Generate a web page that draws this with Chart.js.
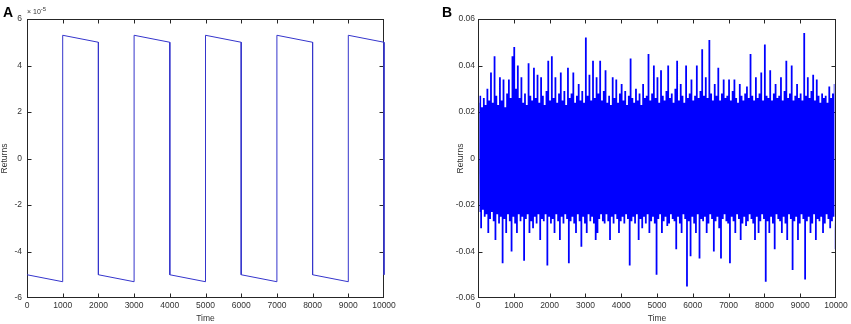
<!DOCTYPE html>
<html><head><meta charset="utf-8">
<script src="https://cdn.jsdelivr.net/npm/chart.js@4.4.1/dist/chart.umd.min.js"></script>
<style>
html,body{margin:0;padding:0;background:#fff;width:851px;height:324px;overflow:hidden;}
#wrap{position:relative;width:851px;height:324px;}
canvas{position:absolute;top:0;}
.pl{position:absolute;font:bold 14px 'Liberation Sans',Arial,sans-serif;line-height:14px;color:#000;}
.mult{position:absolute;font:7px 'Liberation Sans',Arial,sans-serif;line-height:7px;color:#333;white-space:nowrap;}
.mult span{position:relative;top:-3px;font-size:6px;}
</style></head><body>
<div id="wrap">
<canvas id="cA" width="400" height="324" style="left:0;width:400px;height:324px"></canvas>
<canvas id="cB" width="395" height="324" style="left:456px;width:395px;height:324px"></canvas>
<div class="pl" style="left:3px;top:5px">A</div>
<div class="pl" style="left:442px;top:5px">B</div>
<div class="mult" style="left:27px;top:8px">× 10<span>-5</span></div>
</div>
<script>
// ---------- Panel A: returns (units of 1e-5) ----------
const timeA = [0,1000,1000,2000,2000,3000,3000,4000,4000,5000,5000,6000,6000,7000,7000,8000,8000,9000,9000,10000,10000];
const returnsA = [-5.0,-5.3,5.3,5.0,-5.0,-5.3,5.3,5.0,-5.0,-5.3,5.3,5.0,-5.0,-5.3,5.3,5.0,-5.0,-5.3,5.3,5.0,-5.0];
const yTicksA = [-6,-4,-2,0,2,4,6];

// ---------- Panel B: noisy returns, upper / lower swings read every 50 time steps ----------
const stepB = 50;
const upperB = [
0.024,0.027,0.022,0.026,0.023,0.030,0.025,0.037,0.024,0.044,
0.027,0.023,0.035,0.025,0.034,0.022,0.028,0.034,0.026,0.044,
0.048,0.030,0.040,0.026,0.035,0.024,0.028,0.023,0.041,0.027,
0.025,0.039,0.026,0.036,0.024,0.035,0.027,0.023,0.029,0.042,
0.025,0.044,0.026,0.035,0.024,0.028,0.037,0.025,0.029,0.023,
0.039,0.026,0.028,0.037,0.024,0.027,0.032,0.025,0.029,0.024,
0.052,0.027,0.036,0.025,0.042,0.026,0.035,0.028,0.042,0.025,
0.029,0.038,0.024,0.027,0.023,0.035,0.026,0.034,0.024,0.028,
0.032,0.025,0.029,0.023,0.027,0.043,0.026,0.024,0.030,0.025,
0.028,0.023,0.032,0.026,0.027,0.045,0.025,0.028,0.040,0.026,
0.035,0.024,0.038,0.027,0.025,0.029,0.040,0.026,0.028,0.024,
0.030,0.042,0.025,0.032,0.027,0.024,0.040,0.026,0.028,0.034,
0.025,0.027,0.040,0.026,0.029,0.047,0.027,0.035,0.026,0.051,
0.028,0.025,0.032,0.027,0.039,0.025,0.028,0.034,0.026,0.027,
0.034,0.025,0.029,0.034,0.026,0.024,0.032,0.027,0.025,0.028,
0.031,0.026,0.045,0.027,0.025,0.035,0.026,0.028,0.037,0.025,
0.049,0.027,0.026,0.038,0.025,0.028,0.032,0.026,0.027,0.035,
0.025,0.029,0.042,0.026,0.028,0.040,0.025,0.027,0.032,0.026,
0.028,0.025,0.054,0.027,0.035,0.026,0.029,0.036,0.025,0.034,
0.027,0.024,0.028,0.026,0.027,0.024,0.031,0.026,0.028,0.032];
const lowerB = [
-0.023,-0.030,-0.022,-0.025,-0.024,-0.032,-0.026,-0.023,-0.027,-0.035,
-0.024,-0.028,-0.025,-0.045,-0.026,-0.032,-0.024,-0.027,-0.040,-0.025,
-0.028,-0.032,-0.024,-0.027,-0.025,-0.044,-0.026,-0.024,-0.032,-0.027,
-0.030,-0.025,-0.028,-0.024,-0.035,-0.026,-0.027,-0.024,-0.046,-0.025,
-0.028,-0.026,-0.032,-0.024,-0.027,-0.035,-0.025,-0.028,-0.024,-0.026,
-0.045,-0.027,-0.025,-0.028,-0.032,-0.024,-0.027,-0.038,-0.025,-0.028,
-0.032,-0.024,-0.027,-0.025,-0.028,-0.035,-0.032,-0.026,-0.024,-0.027,
-0.028,-0.024,-0.027,-0.035,-0.025,-0.028,-0.024,-0.026,-0.032,-0.027,
-0.025,-0.028,-0.024,-0.026,-0.046,-0.027,-0.025,-0.028,-0.024,-0.035,
-0.026,-0.030,-0.025,-0.028,-0.024,-0.032,-0.027,-0.025,-0.028,-0.050,
-0.026,-0.024,-0.032,-0.027,-0.025,-0.029,-0.028,-0.024,-0.026,-0.027,
-0.039,-0.025,-0.028,-0.032,-0.024,-0.026,-0.055,-0.027,-0.042,-0.025,
-0.028,-0.032,-0.024,-0.043,-0.026,-0.027,-0.025,-0.032,-0.028,-0.024,
-0.026,-0.040,-0.027,-0.025,-0.030,-0.043,-0.026,-0.024,-0.027,-0.028,
-0.045,-0.025,-0.027,-0.032,-0.024,-0.026,-0.035,-0.028,-0.025,-0.029,
-0.027,-0.024,-0.026,-0.028,-0.035,-0.025,-0.032,-0.027,-0.024,-0.026,
-0.053,-0.027,-0.032,-0.025,-0.028,-0.039,-0.024,-0.026,-0.027,-0.032,
-0.025,-0.028,-0.035,-0.024,-0.026,-0.048,-0.027,-0.025,-0.035,-0.028,
-0.024,-0.026,-0.052,-0.027,-0.025,-0.032,-0.028,-0.024,-0.035,-0.026,
-0.027,-0.025,-0.032,-0.028,-0.024,-0.026,-0.030,-0.027,-0.025,-0.039];
const yTicksB = [-0.06,-0.04,-0.02,0,0.02,0.04,0.06];
const xTicks = [0,1000,2000,3000,4000,5000,6000,7000,8000,9000,10000];

// ---------- build series ----------
const seriesA = timeA.map((t,i)=>({x:t,y:returnsA[i]}));
// upper and lower swings of the noisy trace; the area between them is filled
const seriesBUp = upperB.map((u,i)=>({x:i*stepB+stepB/4, y:u}));
const seriesBLow = lowerB.map((l,i)=>({x:i*stepB+3*stepB/4, y:l}));

const AXIS = '#262626';
const TXT = '#333';
const tickFont = {family:"'Liberation Sans Narrow','Liberation Sans',Arial,sans-serif", size:8.5};
const titleFont = {family:"'Liberation Sans',Arial,sans-serif", size:8.5};

const boxTicks = {
  id:'boxTicks',
  beforeDatasetsDraw(chart){
    const {ctx, chartArea:a, scales:{x,y}} = chart;
    ctx.save();
    ctx.strokeStyle = AXIS; ctx.lineWidth = 1;
    const L = Math.round(a.left)+0.5, R = Math.round(a.right)-0.5;
    const T = Math.round(a.top)+0.5, B = Math.round(a.bottom)-0.5;
    ctx.strokeRect(L, T, R-L, B-T);
    ctx.beginPath();
    const len = 4;
    x.ticks.forEach(t=>{
      const px = Math.min(Math.round(x.getPixelForValue(t.value))+0.5, R);
      ctx.moveTo(px,B); ctx.lineTo(px,B-len);
      ctx.moveTo(px,T); ctx.lineTo(px,T+len);
    });
    y.ticks.forEach(t=>{
      const py = Math.min(Math.round(y.getPixelForValue(t.value))+0.5, B);
      ctx.moveTo(L,py); ctx.lineTo(L+len,py);
      ctx.moveTo(R,py); ctx.lineTo(R-len,py);
    });
    ctx.stroke();
    ctx.restore();
  }
};

function makeOptions(yTicks, fmt, yWidth, rightPad, yPad){
  return {
    responsive:false, animation:false, devicePixelRatio:1,
    layout:{padding:{top:19,right:rightPad,left:0,bottom:0}},
    plugins:{legend:{display:false},tooltip:{enabled:false}},
    elements:{point:{radius:0}, line:{tension:0}},
    scales:{
      x:{type:'linear', min:xTicks[0], max:xTicks[xTicks.length-1],
        afterBuildTicks(s){ s.ticks = xTicks.map(v=>({value:v})); },
        ticks:{autoSkip:false, maxRotation:0, minRotation:0, padding:3, color:TXT, font:tickFont, callback:v=>String(v)},
        grid:{display:false, drawTicks:false}, border:{display:false},
        title:{display:true, text:'Time', color:TXT, font:titleFont, padding:{top:0,bottom:0}},
        afterFit(s){ s.height = 26; s.paddingLeft = 0; s.paddingRight = 0; }
      },
      y:{type:'linear', min:yTicks[0], max:yTicks[yTicks.length-1],
        afterBuildTicks(s){ s.ticks = yTicks.map(v=>({value:v})); },
        ticks:{autoSkip:false, padding:yPad, color:TXT, font:tickFont, callback:fmt},
        grid:{display:false, drawTicks:false}, border:{display:false},
        title:{display:true, text:'Returns', color:TXT, font:titleFont, padding:{top:0,bottom:0}},
        afterFit(s){ s.width = yWidth; s.paddingTop = 0; s.paddingBottom = 0; }
      }
    }
  };
}

new Chart(document.getElementById('cA'), {
  type:'line',
  data:{datasets:[{data:seriesA, borderColor:'#3535cc', borderWidth:1, fill:false, clip:2}]},
  options:makeOptions(yTicksA, v=>String(v), 27, 16, 5),
  plugins:[boxTicks]
});

new Chart(document.getElementById('cB'), {
  type:'line',
  data:{datasets:[
    {data:seriesBUp, stepped:'middle', borderWidth:0, borderColor:'rgba(0,0,255,0)', backgroundColor:'#0000ff', fill:'+1'},
    {data:seriesBLow, stepped:'middle', borderWidth:0, borderColor:'rgba(0,0,255,0)', fill:false}
  ]},
  options:makeOptions(yTicksB, v=>Math.abs(v)<1e-9?'0':v.toFixed(2), 22, 15, 3),
  plugins:[boxTicks]
});
</script>
</body></html>
